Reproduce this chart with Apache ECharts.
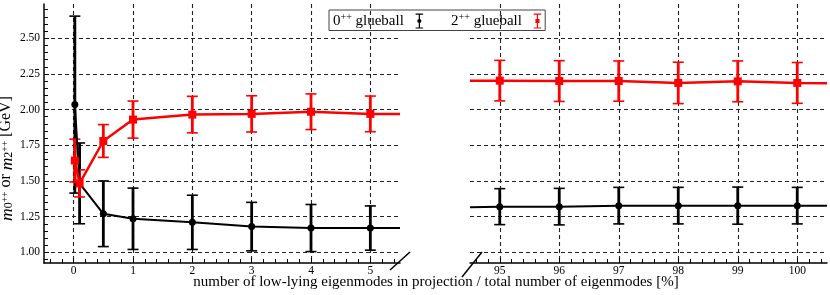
<!DOCTYPE html>
<html><head><meta charset="utf-8">
<script src="https://cdn.jsdelivr.net/npm/echarts@6/dist/echarts.min.js"></script>
<style>html,body{margin:0;padding:0;background:#fff}#c{width:830px;height:295px}</style>
</head><body><div id="c"></div>
<script>
// ---- data ----
const xLeft = [0.02, 0.1, 0.5, 1, 2, 3, 4, 5];
const xRight = [95, 96, 97, 98, 99, 100];
const scalarLeft = [2.035, 1.483, 1.27, 1.235, 1.21, 1.18, 1.17, 1.17];
const scalarLeftErr = [0.62, 0.283, 0.23, 0.215, 0.19, 0.17, 0.165, 0.155];
const scalarRight = [1.32, 1.32, 1.327, 1.327, 1.327, 1.327];
const scalarRightErr = [0.126, 0.128, 0.128, 0.128, 0.13, 0.128];
const tensorLeft = [1.643, 1.483, 1.78, 1.93, 1.965, 1.97, 1.985, 1.97];
const tensorLeftErr = [0.15, 0.095, 0.115, 0.13, 0.128, 0.127, 0.125, 0.125];
const tensorRight = [2.203, 2.2, 2.2, 2.187, 2.198, 2.187];
const tensorRightErr = [0.142, 0.143, 0.141, 0.145, 0.143, 0.143];
// line continuation to the panel edges: [left panel right edge, right panel left edge, right panel right edge]
const edgeX = [5.5, 94.5, 100.5];
const scalarEdge = [1.17, 1.315, 1.327];
const tensorEdge = [1.97, 2.203, 2.185];
// ticks
const xTicksLeft = [0, 1, 2, 3, 4, 5];
const xTicksRight = [95, 96, 97, 98, 99, 100];
const yTicks = [1.0, 1.25, 1.5, 1.75, 2.0, 2.25, 2.5];
const xMinorLeft = []; for (let i = -2; i <= 27; i++) xMinorLeft.push(+(i * 0.2).toFixed(2));
const xMinorRight = []; for (let i = 473; i <= 502; i++) xMinorRight.push(+(i * 0.2).toFixed(2));
const yMinor = []; for (let i = 19; i <= 54; i++) yMinor.push(+(i * 0.05).toFixed(2));
const S0 = '0++ glueball', S2 = '2++ glueball';

const FONT = 'Liberation Serif';
const chart = echarts.init(document.getElementById('c'), null, {renderer: 'canvas'});

function errData(xs, ys, es) { return xs.map((x, i) => [x, ys[i] - es[i], ys[i] + es[i]]); }
function errRender(color, lw) {
  return function (params, api) {
    const x = api.value(0);
    const pLo = api.coord([x, api.value(1)]), pHi = api.coord([x, api.value(2)]);
    const hw = 5.5;
    return {type: 'group', children: [
      {type: 'line', shape: {x1: pHi[0], y1: pHi[1], x2: pLo[0], y2: pLo[1]}, style: {stroke: color, lineWidth: lw}},
      {type: 'line', shape: {x1: pHi[0] - hw, y1: pHi[1], x2: pHi[0] + hw, y2: pHi[1]}, style: {stroke: color, lineWidth: 1.6}},
      {type: 'line', shape: {x1: pLo[0] - hw, y1: pLo[1], x2: pLo[0] + hw, y2: pLo[1]}, style: {stroke: color, lineWidth: 1.6}}
    ]};
  };
}
function lineLeft(ys, edge) {
  return xLeft.map((x, i) => [x, ys[i]]).concat([{value: [edgeX[0], edge[0]], symbol: 'none'}]);
}
function lineRight(ys, edge) {
  return [{value: [edgeX[1], edge[1]], symbol: 'none'}].concat(xRight.map((x, i) => [x, ys[i]]), [{value: [edgeX[2], edge[2]], symbol: 'none'}]);
}
const gridLine = {show: true, lineStyle: {color: '#222', width: 1.1, type: [4, 3]}};
function xMain(gi, min, max, ticks) {
  return {type: 'value', gridIndex: gi, min: min, max: max, position: 'bottom',
    axisLine: {show: true, onZero: false, lineStyle: {color: '#000', width: 1.5}},
    axisTick: {show: true, inside: true, length: 5, customValues: ticks, lineStyle: {color: '#000', width: 1}},
    axisLabel: {customValues: ticks, fontFamily: FONT, fontSize: 11.5, color: '#000', margin: 2},
    splitLine: gridLine};
}
function xMinor(gi, min, max, ticks) {
  return {type: 'value', gridIndex: gi, min: min, max: max, position: 'bottom',
    axisLine: {show: false, onZero: false},
    axisTick: {show: true, inside: true, length: 4, customValues: ticks, lineStyle: {color: '#000', width: 1}},
    axisLabel: {show: false}, splitLine: {show: false}};
}
const YMIN = 0.925, YMAX = 2.74;
const iconCircle = 'path://M0,0H10V1.5H0Z M0,18.5H10V20H0Z M4.2,0H5.8V20H4.2Z M2.2,10A2.8,2.8 0 1 1 7.8,10A2.8,2.8 0 1 1 2.2,10Z';
const iconSquare = 'path://M0,0H10V1.5H0Z M0,18.5H10V20H0Z M4.2,0H5.8V20H4.2Z M2.3,7.3H7.7V12.7H2.3Z';

const option = {
  animation: false,
  grid: [
    {left: 44, width: 356, top: 4, height: 259, outerBoundsMode: 'none', containLabel: false},
    {left: 470, width: 357, top: 4, height: 259, outerBoundsMode: 'none', containLabel: false}
  ],
  xAxis: [
    xMain(0, -0.5, 5.5, xTicksLeft),
    xMinor(0, -0.5, 5.5, xMinorLeft),
    xMain(1, 94.5, 100.5, xTicksRight),
    xMinor(1, 94.5, 100.5, xMinorRight)
  ],
  yAxis: [
    {type: 'value', gridIndex: 0, min: YMIN, max: YMAX, position: 'left',
      axisLine: {show: true, onZero: false, lineStyle: {color: '#000', width: 1.5}},
      axisTick: {show: true, inside: true, length: 5, customValues: yTicks, lineStyle: {color: '#000'}},
      axisLabel: {customValues: yTicks, formatter: v => v.toFixed(2), fontFamily: FONT, fontSize: 11.5, color: '#000', margin: 4},
      splitLine: gridLine,
      name: '{i|m}{sub|0}{ss|++}{n| or }{i|m}{sub|2}{ss|++}{n| [GeV]}',
      nameLocation: 'middle', nameGap: 12,
      nameTextStyle: {padding: [0, 50, 0, 0], rich: {
        i: {fontFamily: FONT, fontStyle: 'italic', fontSize: 17.5, lineHeight: 17, verticalAlign: 'top', color: '#000'},
        n: {fontFamily: FONT, fontSize: 16, lineHeight: 17, verticalAlign: 'top', color: '#000'},
        sub: {fontFamily: FONT, fontSize: 12, lineHeight: 15, verticalAlign: 'bottom', color: '#000'},
        ss: {fontFamily: FONT, fontSize: 9.5, lineHeight: 9, padding: [3, 0, 0, 0], verticalAlign: 'top', color: '#000'}
      }}},
    {type: 'value', gridIndex: 0, min: YMIN, max: YMAX, position: 'left',
      axisLine: {show: false, onZero: false},
      axisTick: {show: true, inside: true, length: 4, customValues: yMinor, lineStyle: {color: '#000'}},
      axisLabel: {show: false}, splitLine: {show: false}},
    {type: 'value', gridIndex: 1, min: YMIN, max: YMAX, position: 'left',
      axisLine: {show: false, onZero: false},
      axisTick: {show: false, customValues: yTicks},
      axisLabel: {show: false, customValues: yTicks},
      splitLine: gridLine}
  ],
  legend: {
    left: 329, top: 10, orient: 'horizontal', align: 'right',
    itemWidth: 9, itemHeight: 15, itemGap: 28,
    borderColor: '#444', borderWidth: 1, padding: [2, 4, 2, 4],
    data: [{name: S0, icon: iconCircle, itemStyle: {color: '#000'}}, {name: S2, icon: iconSquare, itemStyle: {color: '#ff0000'}}],
    formatter: function (name) { const p = name.split('++'); return '{n|' + p[0] + '}{s|++}{e|' + p[1] + '}'; },
    textStyle: {rich: {
      n: {fontFamily: FONT, fontSize: 15, lineHeight: 18, color: '#000'},
      e: {fontFamily: FONT, fontSize: 15, lineHeight: 18, color: '#000', padding: [0, 6, 0, 0]},
      s: {fontFamily: FONT, fontSize: 10, lineHeight: 10, verticalAlign: 'top', color: '#000', padding: [0, 0, 0, 0]}
    }}
  },
  graphic: [
    {type: 'text', x: 436, y: 282, style: {text: 'number of low-lying eigenmodes in projection / total number of eigenmodes [%]', font: '15px "Liberation Serif"', fill: '#000', align: 'center', verticalAlign: 'middle'}},
    {type: 'line', shape: {x1: 390, y1: 270, x2: 410, y2: 252}, style: {stroke: '#000', lineWidth: 1.5}},
    {type: 'line', shape: {x1: 462, y1: 277, x2: 482, y2: 252}, style: {stroke: '#000', lineWidth: 1.5}}
  ],
  series: [
    {type: 'custom', name: S0, xAxisIndex: 0, yAxisIndex: 0, itemStyle: {color: '#000'}, renderItem: errRender('#000', 2.8), encode: {x: 0, y: [1, 2]}, data: errData(xLeft, scalarLeft, scalarLeftErr)},
    {type: 'custom', name: S0, xAxisIndex: 2, yAxisIndex: 2, itemStyle: {color: '#000'}, renderItem: errRender('#000', 2.8), encode: {x: 0, y: [1, 2]}, data: errData(xRight, scalarRight, scalarRightErr)},
    {type: 'line', name: S0, xAxisIndex: 0, yAxisIndex: 0, symbol: 'circle', symbolSize: 7, itemStyle: {color: '#000'}, lineStyle: {color: '#000', width: 2}, data: lineLeft(scalarLeft, scalarEdge)},
    {type: 'line', name: S0, xAxisIndex: 2, yAxisIndex: 2, symbol: 'circle', symbolSize: 7, itemStyle: {color: '#000'}, lineStyle: {color: '#000', width: 2}, data: lineRight(scalarRight, scalarEdge)},
    {type: 'custom', name: S2, xAxisIndex: 0, yAxisIndex: 0, itemStyle: {color: '#ff0000'}, renderItem: errRender('#ff0000', 2.8), encode: {x: 0, y: [1, 2]}, data: errData(xLeft, tensorLeft, tensorLeftErr)},
    {type: 'custom', name: S2, xAxisIndex: 2, yAxisIndex: 2, itemStyle: {color: '#ff0000'}, renderItem: errRender('#ff0000', 2.8), encode: {x: 0, y: [1, 2]}, data: errData(xRight, tensorRight, tensorRightErr)},
    {type: 'line', name: S2, xAxisIndex: 0, yAxisIndex: 0, symbol: 'rect', symbolSize: 8, itemStyle: {color: '#ff0000'}, lineStyle: {color: '#ff0000', width: 2.5}, data: lineLeft(tensorLeft, tensorEdge)},
    {type: 'line', name: S2, xAxisIndex: 2, yAxisIndex: 2, symbol: 'rect', symbolSize: 8, itemStyle: {color: '#ff0000'}, lineStyle: {color: '#ff0000', width: 2.5}, data: lineRight(tensorRight, tensorEdge)}
  ]
};
chart.setOption(option);
</script>
</body></html>
